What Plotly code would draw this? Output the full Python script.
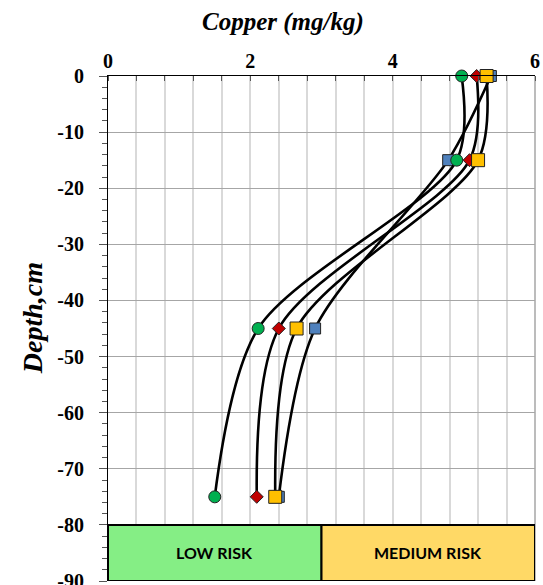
import plotly.graph_objects as go

# Depth of each sampling layer (cm, negative downwards)
depth = [0, -15, -45, -75]

# Copper concentration (mg/kg) per profile
cu_blue = [5.38, 4.78, 2.91, 2.40]
cu_green = [4.97, 4.90, 2.11, 1.50]
cu_red = [5.18, 5.08, 2.40, 2.09]
cu_yellow = [5.32, 5.20, 2.65, 2.35]

# Axis ticks
x_ticks = [0, 2, 4, 6]
y_ticks = [0, -10, -20, -30, -40, -50, -60, -70, -80, -90]
y_ticktext = ["0", "-10", "-20", "-30", "-40", "-50", "-60", "-70", "-80", "-90"]

# Risk classes shown as bands below the profiles
risk_labels = ["LOW RISK", "MEDIUM RISK"]
risk_x0 = [0, 3]
risk_x1 = [3, 6]
risk_y0 = -90
risk_y1 = -80
risk_colors = ["#85EE85", "#FFD966"]

x_range = [0, 6]
y_range = [-90, 0]
ref_line_x = 2

serif = "Liberation Serif"

series = [
    (cu_blue, "square", "#4F81BD", 11),
    (cu_green, "circle", "#00B050", 12),
    (cu_red, "diamond", "#C00000", 10),
    (cu_yellow, "square", "#FFC000", 13),
]

fig = go.Figure()
for vals, sym, col, size in series:
    fig.add_trace(go.Scatter(
        x=vals, y=depth, mode="lines+markers",
        line=dict(color="black", width=2.6, shape="spline", smoothing=0.85),
        marker=dict(symbol=sym, color=col, size=size,
                    line=dict(color="#222222", width=1)),
        cliponaxis=False, showlegend=False,
    ))

# Risk bands
for lab, a, b, c in zip(risk_labels, risk_x0, risk_x1, risk_colors):
    fig.add_shape(type="rect", xref="x", yref="y", x0=a, x1=b,
                  y0=risk_y0, y1=risk_y1, fillcolor=c,
                  line=dict(color="black", width=2), layer="above")
    fig.add_annotation(x=(a + b) / 2, y=(risk_y0 + risk_y1) / 2,
                       xref="x", yref="y", text="<b>" + lab + "</b>",
                       showarrow=False,
                       font=dict(family="Lato", size=16, color="black"))

fig.add_shape(type="line", xref="x", yref="paper", x0=ref_line_x, x1=ref_line_x,
              y0=0, y1=1, line=dict(color="black", width=1), layer="below")

fig.add_annotation(text="<b><i>Copper (mg/kg)</i></b>", xref="paper", yref="paper",
                   x=0.41, y=1.0, yshift=54, xanchor="center", yanchor="middle",
                   showarrow=False,
                   font=dict(family=serif, size=25, color="black"))
fig.add_annotation(text="<b><i>Depth,cm</i></b>", xref="paper", yref="paper",
                   x=-0.176, y=0.52, xanchor="center", yanchor="middle",
                   textangle=-90, showarrow=False,
                   font=dict(family=serif, size=28, color="black"))

fig.update_layout(
    width=543, height=585,
    margin=dict(l=108, r=8, t=76, b=4),
    paper_bgcolor="white", plot_bgcolor="white",
    font=dict(family=serif),
    xaxis=dict(
        side="top", range=x_range, automargin=False,
        tickvals=x_ticks, ticktext=["<b>%d</b>" % v for v in x_ticks],
        showline=True, linecolor="black", linewidth=1, mirror=False,
        showgrid=True, gridcolor="#D9D9D9", gridwidth=1.5,
        zeroline=False, ticks="", ticklabelstandoff=-1,
        ticklabeloverflow="allow",
        tickfont=dict(family=serif, size=20, color="black"),
        minor=dict(dtick=0.4, tick0=0, showgrid=True, gridcolor="#D9D9D9",
                   gridwidth=1.5, ticks="inside", ticklen=5, tickcolor="#555555"),
    ),
    yaxis=dict(
        range=y_range, automargin=False,
        tickvals=y_ticks, ticktext=["<b>%s</b>" % t for t in y_ticktext],
        showline=True, linecolor="black", linewidth=1,
        showgrid=True, gridcolor="#A6A6A6", gridwidth=1.2,
        zeroline=False, ticks="outside", ticklen=8, tickcolor="#555555",
        ticklabelstandoff=11, ticklabeloverflow="allow",
        tickfont=dict(family=serif, size=20, color="black"),
        minor=dict(dtick=2, tick0=0, ticks="outside", ticklen=5,
                   tickcolor="#555555", showgrid=False),
    ),
)

# Right edge of the plot area
fig.add_shape(type="line", xref="paper", yref="paper", x0=1, x1=1, y0=0, y1=1,
              line=dict(color="#A6A6A6", width=1.5), layer="below")

fig.write_html("out.html")
